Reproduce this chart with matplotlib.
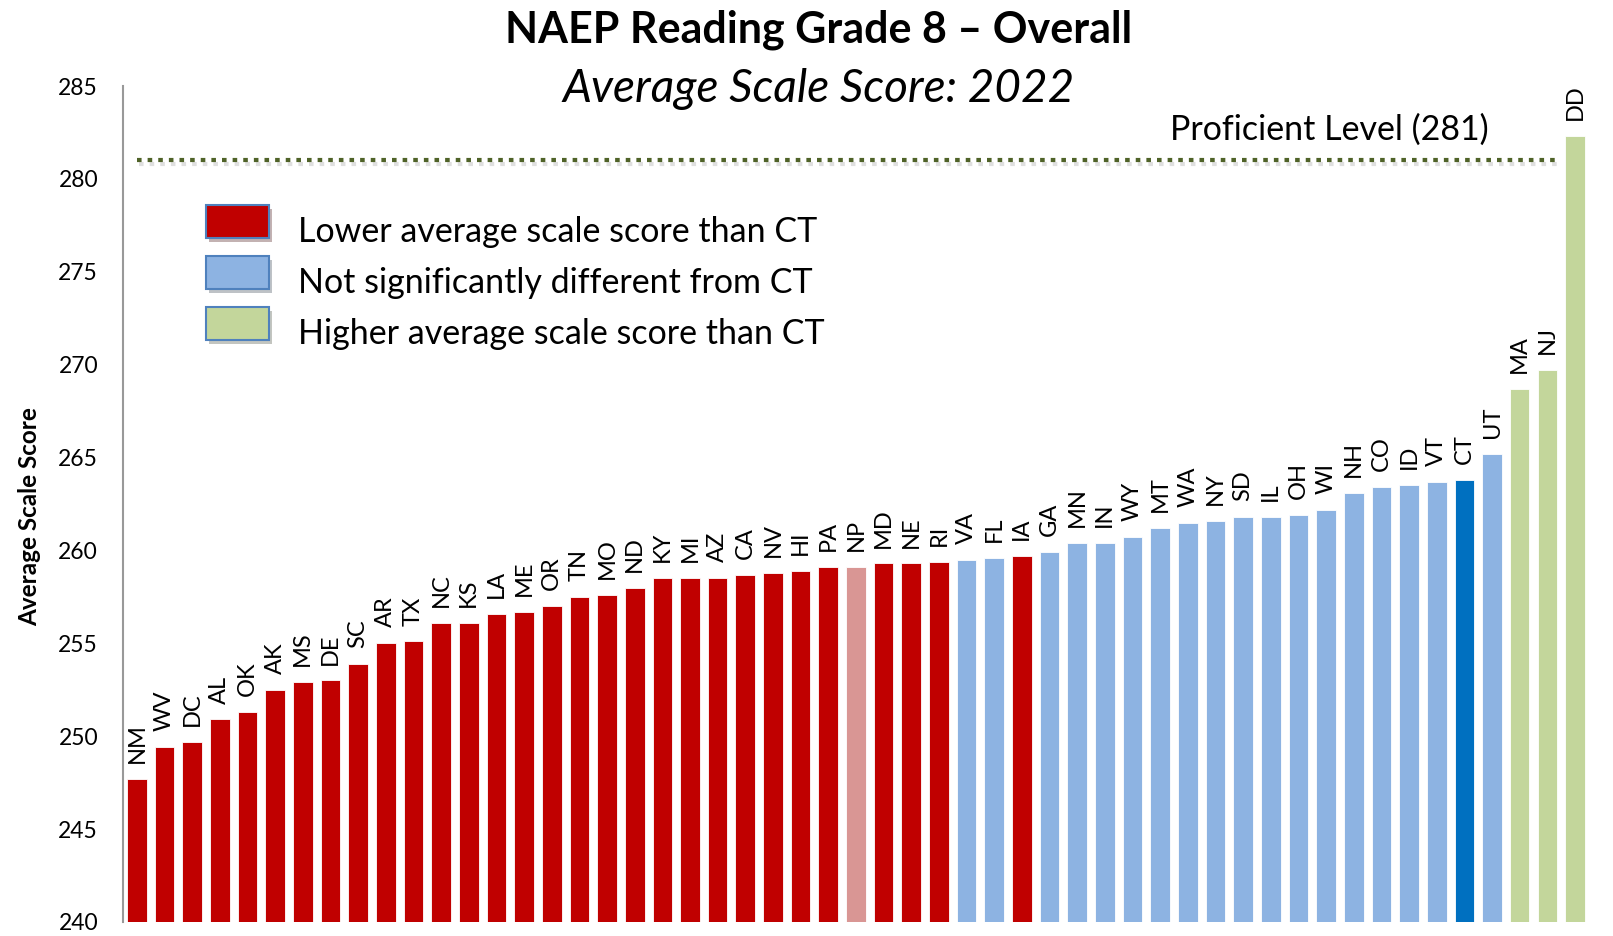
import matplotlib
matplotlib.use("Agg")
import matplotlib.pyplot as plt
import matplotlib.patheffects as pe
from matplotlib.patches import Rectangle

plt.rcParams['font.family'] = ['Lato', 'DejaVu Sans']

# states sorted by 2022 grade 8 reading average scale score
states = ['NM', 'WV', 'DC', 'AL', 'OK', 'AK', 'MS', 'DE', 'SC', 'AR', 'TX', 'NC', 'KS',
          'LA', 'ME', 'OR', 'TN', 'MO', 'ND', 'KY', 'MI', 'AZ', 'CA', 'NV', 'HI', 'PA',
          'NP', 'MD', 'NE', 'RI', 'VA', 'FL', 'IA', 'GA', 'MN', 'IN', 'WY', 'MT', 'WA',
          'NY', 'SD', 'IL', 'OH', 'WI', 'NH', 'CO', 'ID', 'VT', 'CT', 'UT', 'MA', 'NJ', 'DD']
scores = [247.7, 249.4, 249.7, 250.9, 251.3, 252.5, 252.9, 253.0, 253.9, 255.0, 255.1,
          256.1, 256.1, 256.6, 256.7, 257.0, 257.5, 257.6, 258.0, 258.5, 258.5, 258.5,
          258.7, 258.8, 258.9, 259.1, 259.1, 259.3, 259.3, 259.4, 259.5, 259.6, 259.7,
          259.9, 260.4, 260.4, 260.7, 261.2, 261.5, 261.6, 261.8, 261.8, 261.9, 262.2,
          263.1, 263.4, 263.5, 263.7, 263.8, 265.2, 268.7, 269.7, 282.3]
# L = lower than CT, S = not significantly different, H = higher, N = national public, C = CT
groups = ['L'] * 26 + ['N'] + ['L'] * 3 + ['S', 'S', 'L'] + ['S'] * 15 + ['C', 'S', 'H', 'H', 'H']
proficient = 281

colors = {'L': '#C00000', 'S': '#8DB3E2', 'H': '#C3D69B', 'N': '#D99694', 'C': '#0070C0'}
legend_labels = ['Lower average scale score than CT',
                 'Not significantly different from CT',
                 'Higher average scale score than CT']

fig = plt.figure(figsize=(16.13, 9.36), dpi=100)
ax = fig.add_axes([0.0763, 0.015, 0.9087, 0.893])

x = range(len(states))
ax.bar(x, [s - 240 for s in scores], bottom=240, width=0.71,
       color=[colors[g] for g in groups], edgecolor='white', linewidth=0.6)

for i, (st, sc) in enumerate(zip(states, scores)):
    ax.annotate(st, (i, sc), xytext=(0, 11.5), textcoords='offset points',
                rotation=90, ha='center', va='bottom', fontsize=17)

# proficient level line
ax.plot([0.0, 51.4], [proficient, proficient], color='#4F6228', lw=3,
        linestyle=(0, (1.1, 1.45)),
        path_effects=[pe.SimpleLineShadow(offset=(1.5, -2.5), alpha=0.25, shadow_color='gray'),
                      pe.Normal()])
ax.text(43.1, 282.65, f'Proficient Level ({proficient})', ha='center', va='center', fontsize=24.5)

ax.set_xlim(-0.5, len(states) - 0.5)
ax.set_ylim(240, 285)
ax.set_yticks(range(240, 286, 5))
ax.set_xticks([])
ax.tick_params(axis='y', length=0, pad=18, labelsize=16.5)
for side in ['top', 'right', 'bottom']:
    ax.spines[side].set_visible(False)
ax.spines['left'].set_color('#999999')
ax.spines['left'].set_linewidth(1.5)
ax.set_ylabel('Average Scale Score', fontsize=17.5, fontweight='bold')
ax.yaxis.set_label_coords(-0.056, 0.485)

# legend drawn by hand with shadowed boxes
W, H = 1613.0, 936.0
for k, (g, lab) in enumerate(zip(['L', 'S', 'H'], legend_labels)):
    ytop = 205 + k * 51
    box = Rectangle((206 / W, 1 - (ytop + 33) / H), 63 / W, 33 / H, transform=fig.transFigure,
                    facecolor=colors[g], edgecolor='#4F81BD', linewidth=1.5,
                    path_effects=[pe.SimplePatchShadow(offset=(2, -3), alpha=0.3), pe.Normal()])
    fig.patches.append(box)
    fig.text(298 / W, 1 - (ytop + 27) / H, lab, ha='left', va='center', fontsize=24.5)

fig.text(0.5075, 1 - 30 / H, 'NAEP Reading Grade 8 \u2013 Overall', ha='center', va='center',
         fontsize=31, fontweight='bold')
fig.text(0.5075, 1 - 89 / H, 'Average Scale Score: 2022', ha='center', va='center',
         fontsize=33, style='italic')

fig.savefig('out.png', dpi=100)
